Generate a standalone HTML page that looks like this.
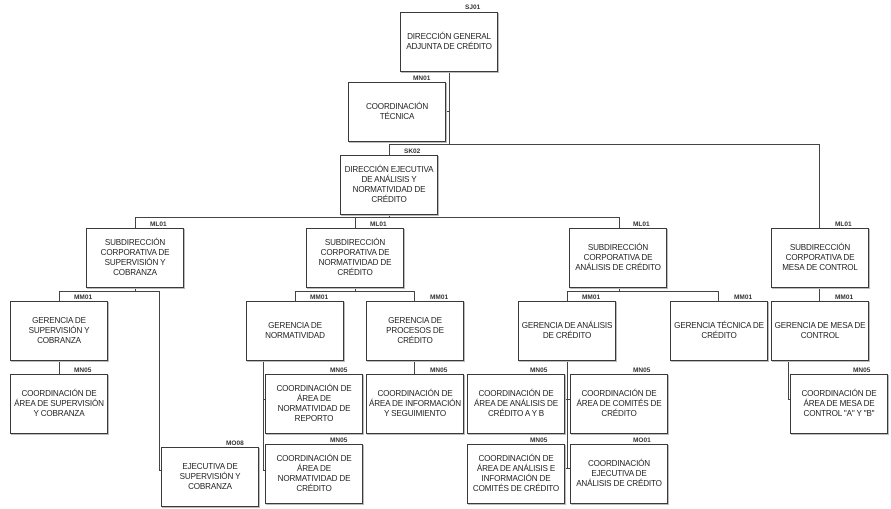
<!DOCTYPE html>
<html><head><meta charset="utf-8"><style>
body{margin:0;width:891px;height:509px;background:#fff;position:relative;overflow:hidden;font-family:"Liberation Sans",sans-serif}
.b{position:absolute;box-sizing:border-box;border:1px solid #3a3a3a;box-shadow:1px 1px 0 #bbb;display:flex;align-items:center;justify-content:center;text-align:center;font-size:8.1px;letter-spacing:-0.15px;line-height:10px;color:#222;padding:0;white-space:nowrap;overflow:visible}
.l{position:absolute;font-size:6.5px;font-weight:bold;color:#333;letter-spacing:0}
.h{position:absolute;height:1px;background:#444}
.v{position:absolute;width:1px;background:#444}
</style></head><body>
<div class="v" style="left:449px;top:72px;height:72px"></div>
<div class="h" style="left:446px;top:111px;width:3px"></div>
<div class="h" style="left:389px;top:144px;width:431px"></div>
<div class="v" style="left:389px;top:144px;height:11px"></div>
<div class="v" style="left:819px;top:144px;height:84px"></div>
<div class="v" style="left:389px;top:214px;height:3px"></div>
<div class="h" style="left:135px;top:217px;width:485px"></div>
<div class="v" style="left:135px;top:217px;height:11px"></div>
<div class="v" style="left:355px;top:217px;height:11px"></div>
<div class="v" style="left:619px;top:217px;height:11px"></div>
<div class="v" style="left:135px;top:288px;height:3px"></div>
<div class="h" style="left:59px;top:291px;width:101px"></div>
<div class="v" style="left:59px;top:291px;height:10px"></div>
<div class="v" style="left:159px;top:291px;height:180px"></div>
<div class="h" style="left:159px;top:470px;width:3px"></div>
<div class="v" style="left:59px;top:360px;height:14px"></div>
<div class="v" style="left:355px;top:288px;height:3px"></div>
<div class="h" style="left:295px;top:291px;width:120px"></div>
<div class="v" style="left:295px;top:291px;height:10px"></div>
<div class="v" style="left:414px;top:291px;height:10px"></div>
<div class="v" style="left:263px;top:360px;height:111px"></div>
<div class="h" style="left:263px;top:399px;width:3px"></div>
<div class="h" style="left:263px;top:470px;width:3px"></div>
<div class="v" style="left:414px;top:360px;height:14px"></div>
<div class="v" style="left:619px;top:288px;height:3px"></div>
<div class="h" style="left:567px;top:291px;width:152px"></div>
<div class="v" style="left:567px;top:291px;height:10px"></div>
<div class="v" style="left:718px;top:291px;height:10px"></div>
<div class="v" style="left:567px;top:360px;height:109px"></div>
<div class="h" style="left:564px;top:399px;width:6px"></div>
<div class="h" style="left:564px;top:468px;width:6px"></div>
<div class="v" style="left:819px;top:288px;height:13px"></div>
<div class="v" style="left:788px;top:360px;height:40px"></div>
<div class="h" style="left:788px;top:399px;width:3px"></div>

<div class="l" style="left:465px;top:4px">SJ01</div>
<div class="b" style="left:400px;top:12px;width:98px;height:60px">DIRECCIÓN GENERAL<br>ADJUNTA DE CRÉDITO</div>
<div class="l" style="left:413px;top:75px">MN01</div>
<div class="b" style="left:348px;top:82px;width:98px;height:60px">COORDINACIÓN<br>TÉCNICA</div>
<div class="l" style="left:404px;top:148px">SK02</div>
<div class="b" style="left:340px;top:155px;width:98px;height:60px">DIRECCIÓN EJECUTIVA<br>DE ANÁLISIS Y<br>NORMATIVIDAD DE<br>CRÉDITO</div>

<div class="l" style="left:150px;top:221px">ML01</div>
<div class="b" style="left:86px;top:228px;width:98px;height:60px">SUBDIRECCIÓN<br>CORPORATIVA DE<br>SUPERVISIÓN Y<br>COBRANZA</div>
<div class="l" style="left:370px;top:221px">ML01</div>
<div class="b" style="left:306px;top:228px;width:98px;height:60px">SUBDIRECCIÓN<br>CORPORATIVA DE<br>NORMATIVIDAD DE<br>CRÉDITO</div>
<div class="l" style="left:633px;top:221px">ML01</div>
<div class="b" style="left:569px;top:228px;width:98px;height:60px">SUBDIRECCIÓN<br>CORPORATIVA DE<br>ANÁLISIS DE CRÉDITO</div>
<div class="l" style="left:835px;top:221px">ML01</div>
<div class="b" style="left:771px;top:228px;width:98px;height:60px">SUBDIRECCIÓN<br>CORPORATIVA DE<br>MESA DE CONTROL</div>

<div class="l" style="left:74px;top:294px">MM01</div>
<div class="b" style="left:10px;top:301px;width:98px;height:60px">GERENCIA DE<br>SUPERVISIÓN Y<br>COBRANZA</div>
<div class="l" style="left:310px;top:294px">MM01</div>
<div class="b" style="left:246px;top:301px;width:98px;height:60px">GERENCIA DE<br>NORMATIVIDAD</div>
<div class="l" style="left:430px;top:294px">MM01</div>
<div class="b" style="left:366px;top:301px;width:98px;height:60px">GERENCIA DE<br>PROCESOS DE<br>CRÉDITO</div>
<div class="l" style="left:582px;top:294px">MM01</div>
<div class="b" style="left:518px;top:301px;width:98px;height:60px">GERENCIA DE ANÁLISIS<br>DE CRÉDITO</div>
<div class="l" style="left:734px;top:294px">MM01</div>
<div class="b" style="left:670px;top:301px;width:98px;height:60px">GERENCIA TÉCNICA DE<br>CRÉDITO</div>
<div class="l" style="left:835px;top:294px">MM01</div>
<div class="b" style="left:771px;top:301px;width:98px;height:60px">GERENCIA DE MESA DE<br>CONTROL</div>

<div class="l" style="left:74px;top:367px">MN05</div>
<div class="b" style="left:10px;top:374px;width:98px;height:60px">COORDINACIÓN DE<br>ÁREA DE SUPERVISIÓN<br>Y COBRANZA</div>
<div class="l" style="left:330px;top:367px">MN05</div>
<div class="b" style="left:265px;top:374px;width:98px;height:60px">COORDINACIÓN DE<br>ÁREA DE<br>NORMATIVIDAD DE<br>REPORTO</div>
<div class="l" style="left:430px;top:367px">MN05</div>
<div class="b" style="left:366px;top:374px;width:98px;height:60px">COORDINACIÓN DE<br>ÁREA DE INFORMACIÓN<br>Y SEGUIMIENTO</div>
<div class="l" style="left:530px;top:367px">MN05</div>
<div class="b" style="left:467px;top:374px;width:98px;height:60px">COORDINACIÓN DE<br>ÁREA DE ANÁLISIS DE<br>CRÉDITO A Y B</div>
<div class="l" style="left:633px;top:367px">MN05</div>
<div class="b" style="left:570px;top:374px;width:98px;height:60px">COORDINACIÓN DE<br>ÁREA DE COMITÉS DE<br>CRÉDITO</div>
<div class="l" style="left:853px;top:367px">MN05</div>
<div class="b" style="left:790px;top:374px;width:98px;height:60px">COORDINACIÓN DE<br>ÁREA DE MESA DE<br>CONTROL "A" Y "B"</div>

<div class="l" style="left:226px;top:440px">MO08</div>
<div class="b" style="left:161px;top:447px;width:98px;height:60px">EJECUTIVA DE<br>SUPERVISIÓN Y<br>COBRANZA</div>
<div class="l" style="left:330px;top:437px">MN05</div>
<div class="b" style="left:265px;top:444px;width:98px;height:60px">COORDINACIÓN DE<br>ÁREA DE<br>NORMATIVIDAD DE<br>CRÉDITO</div>
<div class="l" style="left:530px;top:437px">MN05</div>
<div class="b" style="left:467px;top:444px;width:98px;height:60px">COORDINACIÓN DE<br>ÁREA DE ANÁLISIS E<br>INFORMACIÓN DE<br>COMITÉS DE CRÉDITO</div>
<div class="l" style="left:633px;top:437px">MO01</div>
<div class="b" style="left:570px;top:444px;width:98px;height:60px">COORDINACIÓN<br>EJECUTIVA DE<br>ANÁLISIS DE CRÉDITO</div>
</body></html>
